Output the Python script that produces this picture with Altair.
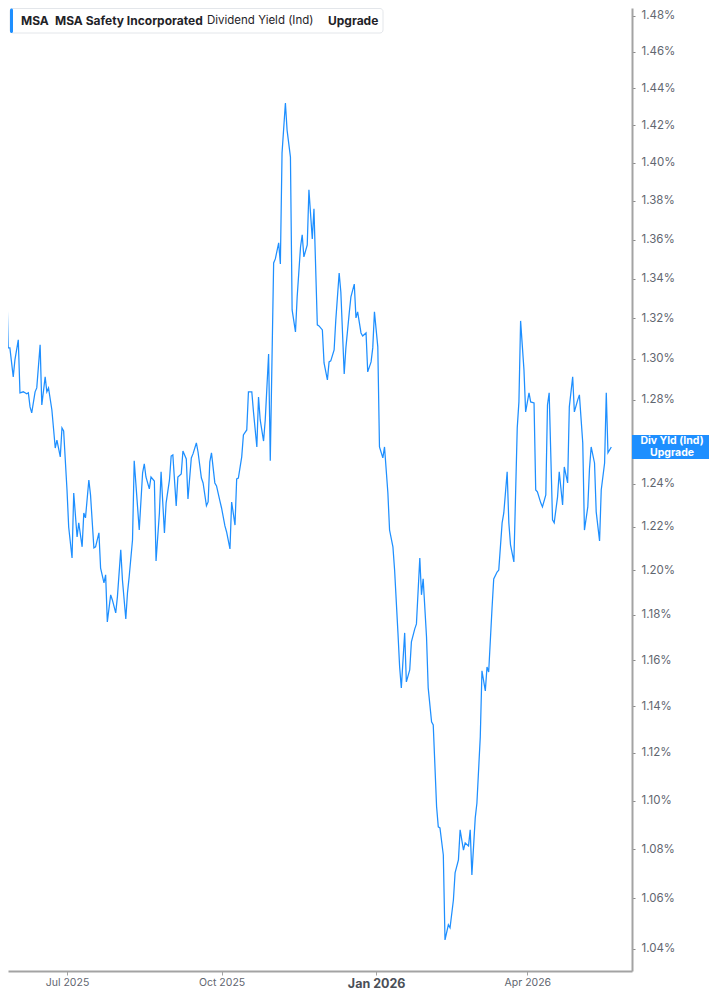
import altair as alt
import pandas as pd

# ---- data (dividend yield, %) ----
dates_a = ["2025-05-22", "2025-05-23", "2025-05-24", "2025-05-26", "2025-05-27", "2025-05-28",
           "2025-05-30", "2025-05-31", "2025-06-02", "2025-06-03", "2025-06-05", "2025-06-06",
           "2025-06-07", "2025-06-08", "2025-06-09", "2025-06-10", "2025-06-12", "2025-06-13",
           "2025-06-15", "2025-06-16", "2025-06-18", "2025-06-19", "2025-06-20", "2025-06-22",
           "2025-06-24", "2025-06-25", "2025-06-27", "2025-06-28", "2025-06-29", "2025-07-01",
           "2025-07-02", "2025-07-04", "2025-07-05", "2025-07-07", "2025-07-08", "2025-07-10",
           "2025-07-11", "2025-07-12", "2025-07-14", "2025-07-15", "2025-07-17", "2025-07-18",
           "2025-07-20", "2025-07-21", "2025-07-23", "2025-07-24", "2025-07-25", "2025-07-27",
           "2025-07-28", "2025-07-30", "2025-07-31", "2025-08-02"]
values_a = [1.3445, 1.3455, 1.3393, 1.3429, 1.3054, 1.3054,
            1.2912, 1.2995, 1.3094, 1.2834, 1.2839, 1.2834,
            1.2829, 1.2834, 1.2766, 1.2737, 1.2839, 1.2858,
            1.3069, 1.2775, 1.2912, 1.2839, 1.2858, 1.2751,
            1.2569, 1.2607, 1.2527, 1.2665, 1.2650, 1.2371,
            1.2199, 1.2057, 1.2357, 1.2153, 1.2218, 1.2108,
            1.2264, 1.2241, 1.2418, 1.2348, 1.2103, 1.2108,
            1.2172, 1.2011, 1.1944, 1.1980, 1.1769, 1.1890,
            1.1867, 1.1809, 1.1881, 1.2094]

dates_b = ["2025-08-03", "2025-08-05", "2025-08-06", "2025-08-07", "2025-08-09", "2025-08-10",
           "2025-08-12", "2025-08-13", "2025-08-15", "2025-08-16", "2025-08-17", "2025-08-19",
           "2025-08-20", "2025-08-22", "2025-08-23", "2025-08-25", "2025-08-26", "2025-08-28",
           "2025-08-29", "2025-08-31", "2025-09-01", "2025-09-02", "2025-09-04", "2025-09-05",
           "2025-09-07", "2025-09-08", "2025-09-10", "2025-09-11", "2025-09-13", "2025-09-14",
           "2025-09-16", "2025-09-17", "2025-09-19", "2025-09-20", "2025-09-22", "2025-09-23",
           "2025-09-24", "2025-09-25", "2025-09-27", "2025-09-28", "2025-09-30", "2025-10-01",
           "2025-10-03", "2025-10-04", "2025-10-06", "2025-10-07", "2025-10-09", "2025-10-10",
           "2025-10-11"]
values_b = [1.1957, 1.1782, 1.1899, 1.1971, 1.2140, 1.2508,
            1.2292, 1.2185, 1.2451, 1.2494, 1.2432, 1.2376,
            1.2432, 1.2413, 1.2043, 1.2264, 1.2456, 1.2172,
            1.2311, 1.2418, 1.2531, 1.2536, 1.2297, 1.2432,
            1.2446, 1.2555, 1.2517, 1.2329, 1.2522, 1.2541,
            1.2593, 1.2550, 1.2427, 1.2404, 1.2297, 1.2315,
            1.2503, 1.2546, 1.2404, 1.2390, 1.2320, 1.2287,
            1.2204, 1.2176, 1.2098, 1.2315, 1.2208, 1.2423,
            1.2427]

dates_c = ["2025-10-13", "2025-10-14", "2025-10-16", "2025-10-17", "2025-10-19", "2025-10-20",
           "2025-10-22", "2025-10-23", "2025-10-24", "2025-10-26", "2025-10-27", "2025-10-29",
           "2025-10-30", "2025-11-01", "2025-11-02", "2025-11-04", "2025-11-05", "2025-11-06",
           "2025-11-08", "2025-11-09", "2025-11-11", "2025-11-12", "2025-11-14", "2025-11-15",
           "2025-11-17", "2025-11-18", "2025-11-19", "2025-11-21", "2025-11-22", "2025-11-24",
           "2025-11-25", "2025-11-27", "2025-11-28", "2025-11-30", "2025-12-01", "2025-12-03",
           "2025-12-04", "2025-12-05", "2025-12-07", "2025-12-08", "2025-12-10", "2025-12-11",
           "2025-12-13", "2025-12-14", "2025-12-16", "2025-12-17", "2025-12-19", "2025-12-20",
           "2025-12-21", "2025-12-23", "2025-12-24", "2025-12-26", "2025-12-27", "2025-12-29",
           "2025-12-30", "2025-12-31", "2026-01-02"]
values_c = [1.2527, 1.2631, 1.2655, 1.2839, 1.2839, 1.2742,
            1.2574, 1.2814, 1.2703, 1.2602, 1.2703, 1.3024,
            1.2508, 1.3480, 1.3501, 1.3583, 1.3475, 1.4053,
            1.4321, 1.4175, 1.4031, 1.3243, 1.3133, 1.3308,
            1.3562, 1.3624, 1.3511, 1.3572, 1.3858, 1.3603,
            1.3759, 1.3168, 1.3163, 1.3143, 1.2980, 1.2897,
            1.2985, 1.2990, 1.3044, 1.3193, 1.3429, 1.3333,
            1.2926, 1.3054, 1.3228, 1.3308, 1.3373, 1.3203,
            1.3233, 1.3128, 1.3113, 1.3128, 1.2936, 1.2985,
            1.3054, 1.3233, 1.3059]

dates_d = ["2026-01-03", "2026-01-05", "2026-01-06", "2026-01-08", "2026-01-09", "2026-01-11",
           "2026-01-12", "2026-01-14", "2026-01-15", "2026-01-16", "2026-01-18", "2026-01-19",
           "2026-01-21", "2026-01-22", "2026-01-24", "2026-01-25", "2026-01-27", "2026-01-28",
           "2026-01-29", "2026-01-31", "2026-02-01", "2026-02-03", "2026-02-04", "2026-02-06",
           "2026-02-07", "2026-02-08", "2026-02-10", "2026-02-11", "2026-02-13", "2026-02-14",
           "2026-02-16", "2026-02-17", "2026-02-19", "2026-02-20", "2026-02-22", "2026-02-23",
           "2026-02-25", "2026-02-26", "2026-02-27", "2026-03-01", "2026-03-02", "2026-03-04",
           "2026-03-05", "2026-03-07", "2026-03-08", "2026-03-09", "2026-03-11", "2026-03-12",
           "2026-03-14", "2026-03-15"]
values_d = [1.2574, 1.2522, 1.2574, 1.2357, 1.2185, 1.2108,
            1.2002, 1.1720, 1.1570, 1.1479, 1.1720, 1.1505,
            1.1557, 1.1680, 1.1738, 1.1760, 1.2057, 1.1890,
            1.1962, 1.1702, 1.1479, 1.1332, 1.1319, 1.0974,
            1.0891, 1.0887, 1.0776, 1.0435, 1.0495, 1.0483,
            1.0594, 1.0703, 1.0756, 1.0879, 1.0796, 1.0825,
            1.0813, 1.0879, 1.0695, 1.0928, 1.0990, 1.1268,
            1.1553, 1.1466, 1.1570, 1.1548, 1.1831, 1.1962,
            1.1993, 1.2002]

dates_e = ["2026-03-17", "2026-03-18", "2026-03-20", "2026-03-21", "2026-03-22", "2026-03-24",
           "2026-03-26", "2026-03-27", "2026-03-28", "2026-03-30", "2026-03-31", "2026-04-02",
           "2026-04-03", "2026-04-05", "2026-04-06", "2026-04-07", "2026-04-09", "2026-04-10",
           "2026-04-12", "2026-04-13", "2026-04-14", "2026-04-16", "2026-04-17", "2026-04-19",
           "2026-04-20", "2026-04-22", "2026-04-23", "2026-04-25", "2026-04-26", "2026-04-28",
           "2026-04-29", "2026-05-01", "2026-05-02", "2026-05-04", "2026-05-05", "2026-05-07",
           "2026-05-08", "2026-05-09", "2026-05-11", "2026-05-12", "2026-05-14", "2026-05-15",
           "2026-05-17", "2026-05-18", "2026-05-19", "2026-05-21"]
values_e = [1.2218, 1.2264, 1.2456, 1.2218, 1.2117, 1.2039,
            1.2665, 1.2790, 1.3188, 1.2946, 1.2742, 1.2834,
            1.2790, 1.2785, 1.2371, 1.2362, 1.2311, 1.2292,
            1.2348, 1.2775, 1.2834, 1.2232, 1.2218, 1.2339,
            1.2456, 1.2301, 1.2479, 1.2404, 1.2766, 1.2912,
            1.2742, 1.2800, 1.2824, 1.2593, 1.2185, 1.2292,
            1.2470, 1.2574, 1.2498, 1.2269, 1.2135, 1.2371,
            1.2498, 1.2834, 1.2546, 1.2574]

# 1.26% is hidden behind the "Div Yld (Ind)" tag in the reference
y_tick_values = [1.04, 1.06, 1.08, 1.10, 1.12, 1.14, 1.16, 1.18, 1.20, 1.22, 1.24,
                 1.28, 1.30, 1.32, 1.34, 1.36, 1.38, 1.40, 1.42, 1.44, 1.46, 1.48]
header_texts = ["MSA", "MSA Safety Incorporated", "Dividend Yield (Ind)", "Upgrade"]
tag_lines = ["Div Yld (Ind)", "Upgrade"]

dates = dates_a + dates_b + dates_c + dates_d + dates_e
values = values_a + values_b + values_c + values_d + values_e
df = pd.DataFrame({"date": dates, "value": values})
last_df = df.tail(1).reset_index(drop=True)
one = pd.DataFrame({"k": [0]})

# ---- styling ----
W, H = 624, 963
RIGHT_PAD, BOTTOM_PAD = 77, 20
BLUE = "#1e8fff"
AX = "#a3a3a3"
FONT = "Inter"
TAG_HALF = 0.00454  # half tag height (12 px) expressed in log units of the y scale

x_scale = alt.Scale(
    type="utc",
    domain=[alt.DateTime(year=2025, month=5, date=26, hours=21, minutes=7, utc=True),
            alt.DateTime(year=2026, month=6, date=2, hours=7, minutes=26, utc=True)],
)
y_scale = alt.Scale(type="log", domain=[1.03132, 1.48448], nice=False, zero=False)

is_jan = "utcmonth(datum.value) == 0"
x_axis = alt.Axis(
    orient="bottom",
    values=[alt.DateTime(year=2025, month=7, date=1, utc=True),
            alt.DateTime(year=2025, month=10, date=1, utc=True),
            alt.DateTime(year=2026, month=1, date=1, utc=True),
            alt.DateTime(year=2026, month=4, date=1, utc=True)],
    format="%b %Y",
    title=None,
    grid=False,
    domainColor=AX,
    domainWidth=2,
    tickColor=AX,
    tickSize=4,
    tickWidth=1,
    labelPadding=2,
    labelFont=FONT,
    labelFontSize={"condition": {"test": is_jan, "value": 12.5}, "value": 10.5},
    labelFontWeight={"condition": {"test": is_jan, "value": "bold"}, "value": "normal"},
    labelColor={"condition": {"test": is_jan, "value": "#4a4f57"}, "value": "#5f6670"},
)
y_axis = alt.Axis(
    orient="right",
    values=y_tick_values,
    labelExpr="format(datum.value, '.2f') + '%'",
    title=None,
    grid=False,
    domainColor=AX,
    domainWidth=2,
    tickColor="#8a8a8a",
    tickSize=3,
    tickWidth=1,
    labelPadding=6,
    labelFont=FONT,
    labelFontSize=11.5,
    labelColor="#5f6670",
    labelOverlap=False,
)

line = alt.Chart(df).mark_line(color=BLUE, strokeWidth=1.25, clip=True).encode(
    x=alt.X("date:T", scale=x_scale, axis=x_axis),
    y=alt.Y("value:Q", scale=y_scale, axis=y_axis),
)

tag_box = alt.Chart(last_df).transform_calculate(
    hi=f"datum.value * exp({TAG_HALF})",
    lo=f"datum.value * exp(-{TAG_HALF})",
).mark_rect(color=BLUE).encode(
    x=alt.value(W),
    x2=alt.value(W + RIGHT_PAD),
    y=alt.Y("hi:Q"),
    y2="lo:Q",
)


def tag_text(txt, dy):
    return alt.Chart(last_df).mark_text(
        color="white", font=FONT, fontSize=10.5, fontWeight="bold",
        align="center", baseline="middle", dy=dy,
    ).encode(x=alt.value(W + 40), y=alt.Y("value:Q"), text=alt.value(txt))


tag_texts = [tag_text(tag_lines[0], -6), tag_text(tag_lines[1], 6)]

header_box = alt.Chart(one).mark_rect(
    fill="white", stroke="#e3e6ea", strokeWidth=1, cornerRadius=3
).encode(x=alt.value(2), x2=alt.value(375), y=alt.value(0.5), y2=alt.value(25))
header_bar = alt.Chart(one).mark_rect(fill=BLUE, cornerRadius=2).encode(
    x=alt.value(2), x2=alt.value(5), y=alt.value(0.5), y2=alt.value(25)
)


def header_text(txt, xpos, weight, size):
    return alt.Chart(one).mark_text(
        font=FONT, fontSize=size, fontWeight=weight, color="#1f2328",
        align="left", baseline="middle",
    ).encode(x=alt.value(xpos), y=alt.value(12.5), text=alt.value(txt))


headers = [
    header_text(header_texts[0], 13, "bold", 12),
    header_text(header_texts[1], 47, "bold", 12),
    header_text(header_texts[2], 199, "normal", 11.5),
    header_text(header_texts[3], 320, "bold", 12),
]

chart = alt.layer(line, tag_box, *tag_texts, header_box, header_bar, *headers).properties(
    width=W,
    height=H,
    autosize=alt.AutoSizeParams(type="none"),
    padding={"left": 0, "top": 0, "right": RIGHT_PAD, "bottom": BOTTOM_PAD},
).configure_view(stroke=None)

chart.save("out.html", embed_options={"renderer": "svg", "actions": False})
